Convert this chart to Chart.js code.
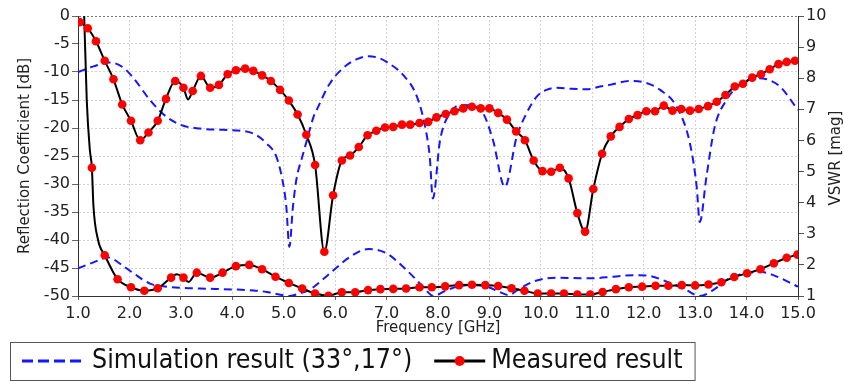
<!DOCTYPE html>
<html><head><meta charset="utf-8">
<script src="https://cdn.jsdelivr.net/npm/chart.js@4.4.1/dist/chart.umd.min.js"></script>
<style>html,body{margin:0;padding:0;background:#fff;overflow:hidden}</style>
</head><body>
<canvas id="c" width="844" height="381"></canvas>
<script>
// ---- text ----
const legendLabels = ['Simulation result (33°,17°)', 'Measured result'];
const xTitle = 'Frequency [GHz]';
const yTitle = 'Reflection Coefficient [dB]';
const y2Title = 'VSWR [mag]';

// ---- simulation: reflection coefficient [dB] ----
const simDbFreq = [1.0,1.3,1.62,1.88,2.08,2.4,2.72,3.05,3.37,3.7,4.02,4.41,4.67,4.86,4.99,5.05,5.11,5.18,5.25,5.35,5.45,5.58,5.64,5.9,6.22,6.45,6.65,6.85,7.0,7.33,7.59,7.75,7.84,7.9,8.04,8.23,8.46,8.69,8.88,9.07,9.3,9.53,9.72,9.92,10.11,10.31,10.6,10.89,11.15,11.34,11.73,11.99,12.32,12.64,12.9,13.03,13.09,13.22,13.38,13.61,13.87,14.2,14.39,14.65,15.0];
const simDbVal  = [-10.0,-9.0,-8.3,-9.2,-11.1,-15.0,-18.0,-19.6,-20.1,-20.3,-20.4,-21.0,-22.8,-25.2,-30.0,-34.0,-41.2,-34.0,-29.0,-25.5,-22.2,-18.0,-16.8,-12.0,-8.8,-7.6,-7.2,-7.5,-8.2,-10.6,-14.4,-19.8,-25.2,-32.6,-22.2,-17.4,-15.9,-16.1,-17.4,-22.2,-30.5,-21.6,-17.4,-14.4,-13.2,-12.8,-13.0,-13.1,-12.6,-12.3,-11.6,-11.8,-13.2,-16.2,-22.8,-30.5,-36.8,-28.7,-19.8,-15.0,-12.3,-11.1,-11.3,-12.6,-16.8];

// ---- simulation: VSWR ----
const simVswrFreq = [1.0,1.3,1.59,1.85,2.08,2.4,2.72,3.05,3.37,4.02,4.41,4.67,4.93,5.12,5.3,5.51,5.9,6.29,6.65,7.0,7.39,7.71,7.91,8.17,8.43,8.65,8.95,9.2,9.37,9.59,9.85,10.11,10.37,10.76,10.96,11.41,11.8,12.06,12.45,12.83,13.09,13.35,13.67,14.0,14.26,14.52,15.0];
const simVswrVal  = [1.89,2.08,2.24,2.0,1.73,1.40,1.30,1.26,1.24,1.21,1.18,1.13,1.04,1.0,1.08,1.21,1.73,2.26,2.51,2.37,1.83,1.30,1.0,1.19,1.32,1.35,1.30,1.13,1.03,1.24,1.46,1.57,1.59,1.57,1.57,1.62,1.67,1.66,1.46,1.19,1.0,1.19,1.57,1.73,1.78,1.67,1.30];

// ---- measured: reflection coefficient [dB] (marker samples) ----
const measDbFreq = [1.03,1.19,1.35,1.52,1.69,1.86,2.03,2.21,2.37,2.55,2.71,2.89,3.05,3.23,3.39,3.57,3.74,3.91,4.07,4.25,4.41,4.58,4.75,4.93,5.10,5.27,5.44,5.61,5.79,5.96,6.13,6.29,6.46,6.63,6.80,6.97,7.13,7.30,7.46,7.64,7.81,7.97,8.15,8.32,8.49,8.66,8.83,9.00,9.17,9.34,9.52,9.69,9.86,10.03,10.20,10.37,10.54,10.71,10.86,11.02,11.19,11.36,11.53,11.71,11.88,12.05,12.22,12.39,12.56,12.73,12.90,13.07,13.25,13.42,13.59,13.77,13.93,14.11,14.28,14.45,14.62,14.78,14.94];
const measDbVal  = [-1.1,-2.2,-4.5,-8.0,-11.3,-15.8,-18.7,-22.2,-20.8,-18.7,-14.8,-11.6,-12.8,-13.4,-10.7,-12.8,-12.3,-10.4,-9.7,-9.4,-9.8,-10.6,-11.6,-13.2,-15.1,-17.6,-21.2,-26.6,-42.1,-32.0,-25.8,-24.9,-23.4,-21.3,-20.5,-19.9,-19.8,-19.4,-19.4,-19.1,-18.9,-18.1,-17.5,-17.0,-16.5,-16.2,-16.5,-16.5,-17.3,-18.5,-20.6,-22.2,-25.8,-27.7,-27.8,-27.1,-29.0,-35.2,-38.5,-30.9,-24.6,-21.5,-19.8,-18.4,-17.7,-17.0,-17.0,-16.0,-16.9,-16.6,-16.9,-16.6,-16.1,-15.3,-14.1,-12.6,-12.1,-11.0,-10.4,-9.5,-8.6,-8.2,-8.0];
// extra points of the measured trace between markers
const measDbExtraFreq = [3.14];
const measDbExtraVal  = [-14.9];

// ---- measured: VSWR (marker samples) ----
const measVswrFreq = [1.27,1.52,1.77,2.03,2.29,2.55,2.81,3.05,3.31,3.57,3.81,4.07,4.33,4.58,4.84,5.10,5.36,5.61,5.87,6.13,6.39,6.64,6.88,7.13,7.38,7.64,7.88,8.14,8.41,8.66,8.92,9.17,9.43,9.68,9.94,10.20,10.45,10.71,10.96,11.20,11.46,11.71,11.97,12.23,12.48,12.74,13.00,13.26,13.51,13.76,14.01,14.27,14.53,14.78,14.99];
const measVswrVal  = [5.12,2.31,1.54,1.28,1.17,1.25,1.59,1.59,1.75,1.59,1.75,1.96,2.0,1.86,1.62,1.42,1.24,1.08,1.01,1.12,1.12,1.19,1.22,1.23,1.24,1.28,1.28,1.31,1.35,1.36,1.35,1.32,1.25,1.17,1.08,1.08,1.08,1.05,1.05,1.13,1.22,1.28,1.30,1.33,1.33,1.35,1.34,1.37,1.44,1.61,1.73,1.86,2.05,2.23,2.33];
const measVswrExtraFreq = [1.06,1.12,1.17,1.23,1.30,1.39,2.92,3.15];
const measVswrExtraVal  = [14.0,10.0,7.3,5.7,3.9,2.8,1.70,1.45];

// ---- axis ticks ----
const xTicks = [1,2,3,4,5,6,7,8,9,10,11,12,13,14,15];
const dbTicks = [0,-5,-10,-15,-20,-25,-30,-35,-40,-45,-50];
const vswrTicks = [1,2,3,4,5,6,7,8,9,10];

// ---- helpers ----
const pts = (xs, ys) => xs.map((x, i) => ({x, y: ys[i]}));
const merged = (xa, ya, xb, yb) => pts(xa, ya).concat(pts(xb, yb)).sort((a, b) => a.x - b.x);

const simColor = '#1515ff';
const measLine = '#000000';
const measDot = '#ff0000';
const FONT = '"DejaVu Sans", Verdana, sans-serif';
Chart.defaults.font.family = FONT;
Chart.defaults.color = '#222';

const extras = {
  id: 'extras',
  afterDraw(chart) {
    const ctx = chart.ctx;
    ctx.save();
    const ca = chart.chartArea;
    ctx.font = '15px ' + FONT;
    ctx.fillStyle = '#222';
    ctx.textAlign = 'center';
    ctx.textBaseline = 'middle';
    ctx.translate(836, (ca.top + ca.bottom) / 2 + 2);
    ctx.rotate(-Math.PI / 2);
    ctx.fillText(y2Title, 0, 0);
    ctx.restore();

    ctx.save();
    const top = 342, h = 38, left = 10;
    const cy = top + h / 2;
    ctx.font = '26.5px "Liberation Sans Narrow", "DejaVu Sans Condensed", sans-serif';
    ctx.textBaseline = 'middle';
    ctx.textAlign = 'left';
    const w0 = ctx.measureText(legendLabels[0]).width;
    const w1 = ctx.measureText(legendLabels[1]).width;
    ctx.strokeStyle = simColor; ctx.lineWidth = 3; ctx.setLineDash([11, 5]);
    ctx.beginPath(); ctx.moveTo(22, cy); ctx.lineTo(82, cy); ctx.stroke();
    ctx.setLineDash([]);
    ctx.fillStyle = '#111';
    const t0 = 92;
    ctx.fillText(legendLabels[0], t0, cy);
    const s2 = t0 + w0 + 22;
    ctx.strokeStyle = measLine; ctx.lineWidth = 3;
    ctx.beginPath(); ctx.moveTo(s2, cy); ctx.lineTo(s2 + 51, cy); ctx.stroke();
    ctx.fillStyle = measDot; ctx.beginPath(); ctx.arc(s2 + 25.5, cy, 5, 0, Math.PI * 2); ctx.fill();
    ctx.fillStyle = '#111';
    const t1 = s2 + 57;
    ctx.fillText(legendLabels[1], t1, cy);
    const right = t1 + w1 + 12;
    ctx.strokeStyle = '#555'; ctx.lineWidth = 1;
    ctx.strokeRect(left + 0.5, top + 0.5, right - left, h);
    ctx.restore();
  }
};

const gridCol = '#d2d2d2';

new Chart(document.getElementById('c'), {
  type: 'scatter',
  data: {
    datasets: [
      { label: 'measDbPts', data: pts(measDbFreq, measDbVal), yAxisID: 'y', showLine: false,
        pointRadius: 4.3, pointBackgroundColor: measDot, pointBorderWidth: 0, order: 1 },
      { label: 'measVswrPts', data: pts(measVswrFreq, measVswrVal), yAxisID: 'y1', showLine: false,
        pointRadius: 4.3, pointBackgroundColor: measDot, pointBorderWidth: 0, order: 1 },
      { label: 'measDbLine', data: merged(measDbFreq, measDbVal, measDbExtraFreq, measDbExtraVal), yAxisID: 'y',
        showLine: true, borderColor: measLine, borderWidth: 2, pointRadius: 0, cubicInterpolationMode: 'monotone', order: 2 },
      { label: 'measVswrLine', data: merged(measVswrFreq, measVswrVal, measVswrExtraFreq, measVswrExtraVal), yAxisID: 'y1',
        showLine: true, borderColor: measLine, borderWidth: 2, pointRadius: 0, cubicInterpolationMode: 'monotone', order: 2 },
      { label: 'simDb', data: pts(simDbFreq, simDbVal), yAxisID: 'y', showLine: true,
        borderColor: simColor, borderWidth: 2, borderDash: [8, 5], pointRadius: 0, cubicInterpolationMode: 'monotone', order: 3 },
      { label: 'simVswr', data: pts(simVswrFreq, simVswrVal), yAxisID: 'y1', showLine: true,
        borderColor: simColor, borderWidth: 2, borderDash: [8, 5], pointRadius: 0, cubicInterpolationMode: 'monotone', order: 3 }
    ]
  },
  options: {
    responsive: false,
    animation: false,
    events: [],
    layout: { padding: { top: 16, bottom: 43, left: 0, right: 0 } },
    plugins: { legend: { display: false }, tooltip: { enabled: false } },
    scales: {
      x: {
        type: 'linear', min: 1, max: 15,
        afterBuildTicks: s => { s.ticks = xTicks.map(v => ({value: v})); },
        afterFit: s => { s.height = 42; },
        ticks: { font: { size: 16 }, color: '#222', padding: 4, callback: v => v.toFixed(1), maxRotation: 0, autoSkip: false },
        grid: { color: gridCol, tickColor: '#666', tickLength: 4, tickBorderDash: [] },
        border: { display: true, color: '#333', width: 1, dash: [2, 2] },
        title: { display: true, text: xTitle, font: { size: 15 }, color: '#222', padding: { top: 0, bottom: 1 } }
      },
      y: {
        position: 'left', min: -50, max: 0,
        afterBuildTicks: s => { s.ticks = dbTicks.map(v => ({value: v})); },
        afterFit: s => { s.width = 78; },
        ticks: { font: { size: 16 }, color: '#222', padding: 2 },
        grid: { color: c => (c.tick && c.tick.value === 0) ? '#777' : gridCol, tickColor: '#666', tickLength: 6, tickBorderDash: [] },
        border: { display: true, color: '#333', width: 1, dash: [2, 2] },
        title: { display: true, text: yTitle, font: { size: 15 }, color: '#222', padding: { top: 16, bottom: 0 } }
      },
      y1: {
        position: 'right', min: 1, max: 10,
        afterBuildTicks: s => { s.ticks = vswrTicks.map(v => ({value: v})); },
        afterFit: s => { s.width = 46; },
        ticks: { font: { size: 16 }, color: '#222', padding: 2 },
        grid: { drawOnChartArea: false, tickColor: '#555', tickLength: 6, tickBorderDash: [] },
        border: { display: true, color: '#333', width: 1 },
        title: { display: false }
      }
    }
  },
  plugins: [extras]
});
</script>
</body></html>
